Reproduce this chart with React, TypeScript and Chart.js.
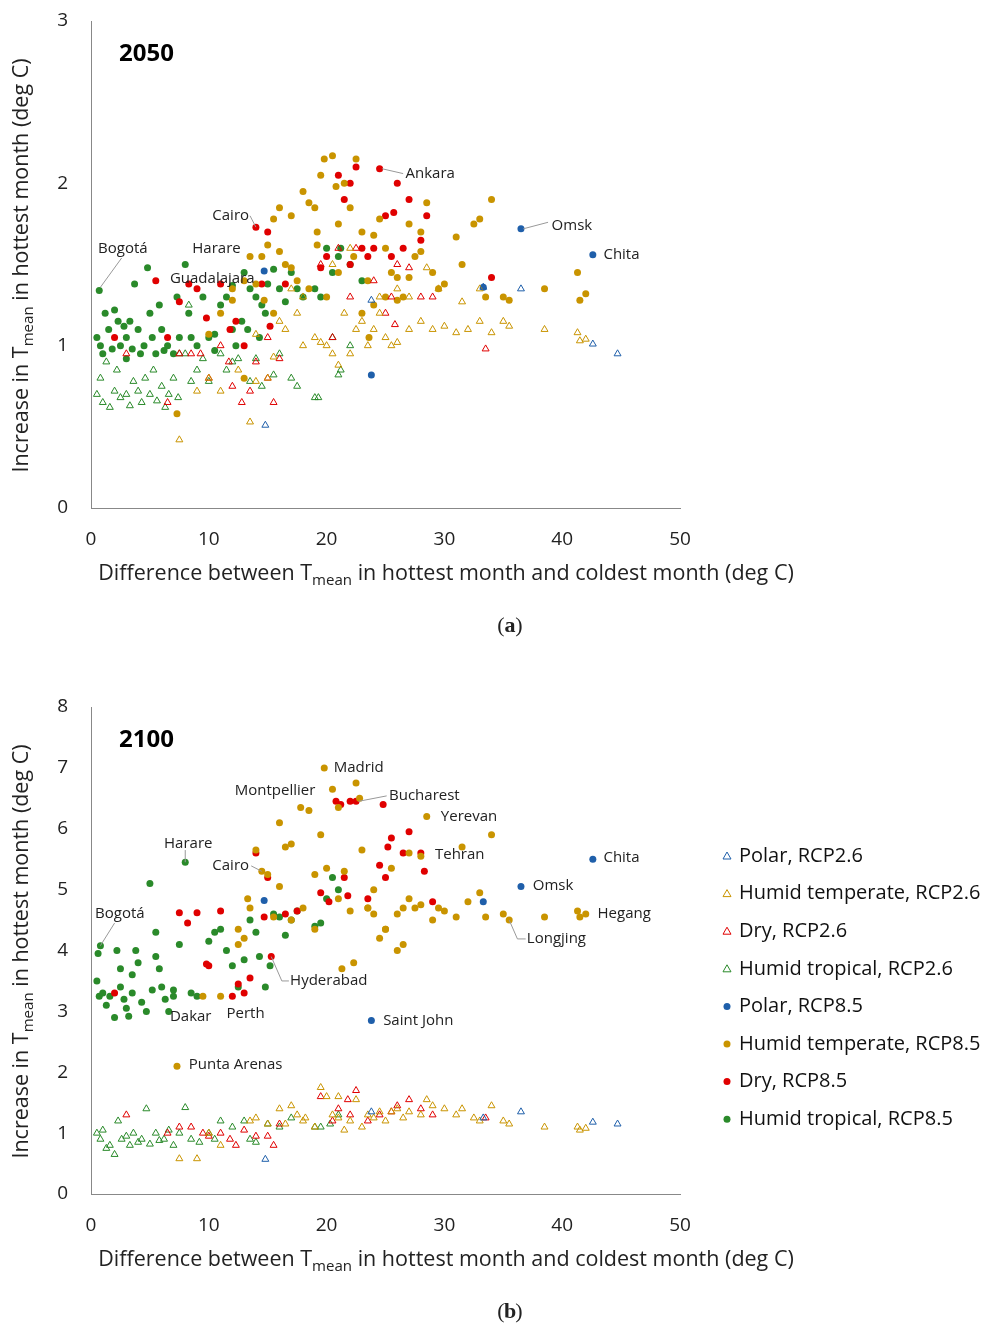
import React, { useEffect, useRef } from "react";
import { Chart, registerables } from "chart.js";
Chart.register(...registerables);

type P = [number, number];
const FONT = "'Open Sans', 'DejaVu Sans', sans-serif";

// ---------- 2050 data ----------
const a_tropical85: P[] = [[0.7,1.34],[0.5,1.05],[0.8,1.0],[1,0.95],[1.2,1.2],[1.5,1.1],[1.8,0.98],[2,1.22],[2.3,1.15],[2.5,1.0],[2.8,1.12],[3,1.05],[3,0.92],[3.3,1.15],[3.5,0.98],[3.7,1.38],[4,1.1],[4.2,0.95],[4.5,1.0],[4.8,1.48],[5,1.2],[5.2,1.05],[5.5,0.95],[5.8,1.25],[6,1.1],[6.2,0.97],[6.5,1.0],[7,0.95],[7.3,1.3],[7.5,1.05],[8,1.5],[8.3,1.2],[8.5,1.05],[9,1.0],[9.5,1.3],[10,1.05],[10.5,0.97],[11,1.25],[11.5,1.3],[12,1.1],[12.3,1.0],[12.8,1.15],[13,1.45],[13.3,1.1],[13.5,1.35],[14,1.3],[14.3,1.05],[14.8,1.2],[15,1.38],[15.5,1.47],[16,1.35],[16.5,1.27],[17,1.45],[17.5,1.35],[18,1.3],[19,1.35],[19.5,1.3],[20,1.6],[20.5,1.45],[21,1.55],[21.2,1.6],[22,1.5],[23,1.4],[12,1.37],[14.5,1.25],[10.5,1.07]];
const a_tropical26: P[] = [[0.5,0.7],[0.8,0.8],[1,0.65],[1.3,0.9],[1.6,0.62],[2,0.72],[2.2,0.85],[2.5,0.68],[3,0.7],[3.3,0.63],[3.6,0.78],[4,0.72],[4.3,0.65],[4.6,0.8],[5,0.7],[5.3,0.85],[5.6,0.66],[6,0.75],[6.3,0.62],[6.6,0.7],[7,0.8],[7.4,0.68],[8,0.95],[8.3,1.25],[8.5,0.78],[9,0.85],[9.5,0.92],[10,0.78],[11,0.95],[11.5,0.85],[12,0.9],[12.5,0.92],[13.5,0.78],[14,0.92],[14.5,0.75],[15.5,0.82],[16,0.95],[17,0.8],[17.5,0.75],[19,0.68],[19.3,0.68],[21,0.82],[21.2,0.85],[22,1.0],[20.5,1.05],[7.5,0.95]];
const a_dry85: P[] = [[2,1.05],[5.5,1.4],[6.5,1.05],[7.5,1.27],[8.3,1.38],[9,1.35],[9.8,1.17],[11,1.38],[11.8,1.1],[12.3,1.15],[13,1.0],[14,1.73],[14.5,1.38],[15,1.7],[15.2,1.12],[16.5,1.38],[19.5,1.48],[20,1.55],[21,2.05],[21.5,1.9],[22,2.0],[22.5,2.1],[23,1.6],[23.5,1.55],[24.5,2.09],[25,1.8],[25.5,1.55],[26,2.0],[27,1.9],[28,1.65],[28.5,1.8],[34,1.42],[22,1.5],[24,1.6],[25.7,1.82],[26.5,1.6]];
const a_dry26: P[] = [[3,0.95],[6.5,0.65],[7.5,0.95],[8.5,0.95],[9.3,0.95],[10,0.8],[11,1.0],[11.7,0.9],[12,0.75],[12.8,0.65],[13.5,0.72],[14,0.9],[15,0.8],[15.5,0.65],[15,1.05],[16,0.92],[19.5,1.5],[20.5,1.05],[21,1.6],[22,1.3],[22.5,1.6],[24,1.4],[25,1.2],[25.5,1.3],[26,1.5],[27,1.48],[28,1.3],[29,1.3],[33.5,0.98],[25.8,1.13]];
const a_temperate85: P[] = [[7.3,0.58],[10,1.07],[11,1.2],[12,1.35],[13,0.8],[13.5,1.55],[14,1.38],[14.5,1.55],[15,1.62],[15.5,1.78],[16,1.85],[16.5,1.5],[17,1.8],[17.5,1.4],[18,1.95],[18.5,1.88],[19,1.85],[19.2,1.62],[19.5,2.05],[19.8,2.15],[20.5,2.17],[21,1.75],[21.5,2.0],[22,1.85],[22.5,2.15],[23,1.7],[23.5,1.4],[24,1.68],[24.5,1.78],[25,1.6],[25.5,1.45],[26,1.42],[26.5,1.3],[27,1.75],[27.5,1.55],[28,1.7],[28.5,1.88],[29,1.45],[29.5,1.35],[30,1.38],[31,1.67],[31.5,1.5],[32.5,1.75],[33,1.78],[33.5,1.3],[34,1.9],[35,1.3],[35.5,1.28],[38.5,1.35],[41.3,1.45],[41.5,1.28],[42,1.32],[20,1.3],[21,1.45],[22.3,1.55],[24,1.25],[25,1.3],[26,1.28],[18.5,1.35],[16,1.58],[17,1.48],[14.7,1.28],[15.5,1.2],[13,1.4],[12,1.28],[23,1.2],[27,1.42],[28,1.58],[23.6,1.05],[19.2,1.7],[20.8,1.98]];
const a_temperate26: P[] = [[7.5,0.42],[9,0.72],[10,0.8],[11,0.72],[13.5,0.53],[14,1.07],[15,0.8],[15.5,0.93],[16,1.15],[17,1.35],[18,1.3],[19,1.05],[19.5,1.02],[20,1.0],[20.5,0.95],[21,0.88],[22,0.95],[22.5,1.1],[23,1.15],[23.5,1.0],[24,1.1],[24.5,1.3],[25,1.05],[25.5,1.0],[26,1.02],[27,1.1],[28,1.15],[28.5,1.48],[29,1.1],[30,1.12],[31,1.08],[32,1.1],[33,1.15],[34,1.08],[35,1.15],[35.5,1.12],[38.5,1.1],[41.3,1.08],[41.5,1.03],[42,1.04],[20.5,1.5],[22,1.6],[24.5,1.2],[26,1.35],[27,1.3],[29.5,1.35],[31.5,1.27],[33,1.35],[16.5,1.1],[17.5,1.2],[21.5,1.2],[18,1.0],[14,0.78],[12.5,0.85]];
const a_polar85: P[] = [[14.7,1.46],[23.8,0.82],[33.3,1.36],[36.5,1.72],[42.6,1.56]];
const a_polar26: P[] = [[14.8,0.51],[23.8,1.28],[33.3,1.36],[36.5,1.35],[42.6,1.01],[44.7,0.95]];

// ---------- 2100 data ----------
const b_tropical85: P[] = [[0.6,3.95],[0.8,4.08],[0.5,3.5],[0.7,3.25],[1,3.3],[1.3,3.1],[1.6,3.25],[2,2.9],[2.2,4.0],[2.5,3.7],[2.8,3.2],[3,3.05],[3.2,2.92],[3.5,3.3],[3.8,4.0],[4,3.8],[4.3,3.15],[4.7,3.0],[5,5.1],[5.2,3.35],[5.5,4.3],[5.8,3.7],[6,3.4],[6.3,3.2],[6.6,3.0],[7,3.35],[7.5,4.1],[8,5.45],[8.5,3.3],[9,3.25],[10,4.15],[10.5,4.3],[11,4.35],[11.5,4.0],[12,3.75],[12.5,3.4],[13,3.85],[13.5,4.5],[14,4.3],[14.3,3.9],[14.8,3.4],[15.2,3.75],[15.5,4.6],[16,4.55],[16.5,4.25],[17,4.5],[17.5,4.65],[19,4.4],[19.5,4.45],[20,4.85],[20.5,5.2],[21,5.0],[3.5,3.6],[5.5,3.9],[2.5,3.4],[7,3.25]];
const b_tropical26: P[] = [[0.5,1.0],[0.8,0.9],[1,1.05],[1.3,0.75],[1.6,0.8],[2,0.65],[2.3,1.2],[2.6,0.9],[3,0.95],[3.3,0.8],[3.6,1.0],[4,0.85],[4.3,0.9],[4.7,1.4],[5,0.82],[5.5,1.0],[5.8,0.88],[6.2,0.9],[6.6,1.05],[7,0.8],[7.5,1.0],[8,1.42],[8.5,0.9],[9.2,0.85],[10,1.0],[10.5,0.9],[11,1.2],[12,1.1],[13,1.2],[13.5,0.9],[14,0.85],[15,1.15],[16,1.1],[17,1.25],[19,1.1],[19.5,1.1],[20.3,1.15],[21,1.3]];
const b_dry85: P[] = [[2,3.3],[7.5,4.62],[8.2,4.45],[9,4.62],[9.8,3.78],[10,3.75],[11,4.65],[12,3.25],[12.5,3.45],[13,3.3],[13.5,3.55],[14,5.6],[14.7,4.55],[15,5.2],[15.3,3.9],[16.5,4.6],[17.5,4.65],[19.5,4.95],[20.2,4.8],[20.8,6.45],[21.2,6.4],[21.5,5.2],[22,6.45],[22.5,6.45],[23.5,4.85],[24.5,5.4],[24.8,6.4],[25.2,5.7],[25.5,5.85],[26.5,5.6],[27,5.95],[28,5.6],[28.3,5.3],[29,4.8],[21.8,4.9],[25,5.2]];
const b_dry26: P[] = [[3,1.3],[6.5,1.0],[7.5,1.1],[8.5,1.1],[9.5,1.0],[10,0.95],[11,1.0],[11.8,0.9],[12.3,0.8],[13,1.05],[14,0.95],[15,0.95],[15.5,0.8],[16,1.15],[19.5,1.6],[20.5,1.2],[21,1.4],[22,1.3],[22.5,1.7],[23.5,1.2],[24.5,1.3],[25.5,1.35],[26,1.45],[27,1.55],[28,1.4],[29,1.3],[33.5,1.25],[21.8,1.55]];
const b_temperate85: P[] = [[7.3,2.1],[9.5,3.25],[11,3.25],[12.5,4.35],[13,4.2],[13.5,4.7],[14,5.65],[14.5,5.3],[15,5.25],[15.5,4.55],[16,6.1],[16.5,5.7],[17,5.75],[17.8,6.35],[18.5,6.3],[19,5.25],[19.5,5.9],[19.8,7.0],[20.5,6.65],[21,6.35],[21.5,5.3],[22,4.65],[22.5,6.75],[22.8,6.5],[23,5.65],[23.5,4.7],[24,4.6],[24.5,4.2],[25,4.35],[25.5,5.35],[26,4.6],[26.5,4.7],[27,5.6],[27.5,4.7],[28,5.55],[28.5,6.2],[29,4.5],[29.5,4.7],[30,4.65],[31,4.55],[31.5,5.7],[32,4.8],[33,4.95],[33.5,4.55],[34,5.9],[35,4.6],[35.5,4.5],[38.5,4.55],[41.3,4.65],[41.5,4.55],[42,4.6],[20,5.35],[21,4.85],[24,5.0],[25,4.35],[26,4.0],[27,4.85],[22.3,3.8],[21.3,3.7],[17,4.5],[18,4.7],[12.5,4.1],[13.3,4.85],[16,5.05],[19,4.35],[23.5,4.7],[26.5,4.1],[28,4.75]];
const b_temperate26: P[] = [[7.5,0.58],[9,0.58],[10,1.0],[11,0.8],[13.5,1.2],[14,1.25],[15,1.15],[16,1.4],[17,1.45],[18,1.2],[19,1.1],[19.5,1.75],[20,1.6],[20.5,1.3],[21,1.25],[21.5,1.05],[22,1.2],[22.5,1.55],[23,1.1],[23.5,1.3],[24,1.25],[24.5,1.35],[25,1.2],[25.5,1.35],[26,1.4],[27,1.35],[28,1.3],[28.5,1.55],[29,1.45],[30,1.4],[31,1.3],[31.5,1.4],[32.5,1.25],[33,1.2],[34,1.45],[35,1.2],[35.5,1.15],[38.5,1.1],[41.3,1.1],[41.5,1.05],[42,1.08],[16.5,1.15],[17.5,1.3],[18.2,1.25],[21,1.6],[26.5,1.25]];
const b_polar85: P[] = [[14.7,4.82],[23.8,2.85],[33.3,4.8],[36.5,5.05],[42.6,5.5]];
const b_polar26: P[] = [[14.8,0.57],[23.8,1.35],[33.3,1.25],[36.5,1.35],[42.6,1.18],[44.7,1.15]];

// label, label x, label y, optional line [x1,y1,x2,y2,...]
type Ann = [string, number, number, number[]?];
const a_labels: Ann[] = [
  ["Bogotá", 0.6, 1.6, [0.8, 1.36, 2.6, 1.54]],
  ["Cairo", 10.3, 1.8, [13.5, 1.8, 14, 1.73]],
  ["Harare", 8.6, 1.6],
  ["Guadalajara", 6.7, 1.41],
  ["Ankara", 26.7, 2.06, [24.7, 2.09, 26.5, 2.06]],
  ["Omsk", 39.1, 1.74, [36.7, 1.72, 38.8, 1.76]],
  ["Chita", 43.5, 1.56],
];
const b_labels: Ann[] = [
  ["Madrid", 20.6, 7.0],
  ["Montpellier", 12.2, 6.62],
  ["Bucharest", 25.3, 6.54, [22.7, 6.45, 25.1, 6.54]],
  ["Yerevan", 29.7, 6.19],
  ["Harare", 6.2, 5.76, [8, 5.65, 8, 5.45]],
  ["Cairo", 10.3, 5.39, [13.6, 5.39, 14.5, 5.3]],
  ["Tehran", 29.2, 5.58],
  ["Chita", 43.5, 5.52],
  ["Omsk", 37.5, 5.06],
  ["Hegang", 43, 4.61],
  ["Bogotá", 0.35, 4.61, [2.0, 4.45, 0.8, 4.08]],
  ["Longjing", 37.0, 4.19, [35.5, 4.5, 36.2, 4.19, 36.9, 4.19]],
  ["Hyderabad", 16.9, 3.5, [15.3, 3.9, 16.2, 3.5, 16.8, 3.5]],
  ["Dakar", 6.7, 2.92],
  ["Perth", 11.5, 2.96],
  ["Saint John", 24.8, 2.84],
  ["Punta Arenas", 8.3, 2.12],
];

const C_POLAR = "#1F5FAA", C_TEMP = "#C99400", C_DRY = "#E00000", C_TROP = "#2A8A2A";
const legendItems: [string, string, boolean][] = [
  ["Polar, RCP2.6", C_POLAR, false],
  ["Humid temperate, RCP2.6", C_TEMP, false],
  ["Dry, RCP2.6", C_DRY, false],
  ["Humid tropical, RCP2.6", C_TROP, false],
  ["Polar, RCP8.5", C_POLAR, true],
  ["Humid temperate, RCP8.5", C_TEMP, true],
  ["Dry, RCP8.5", C_DRY, true],
  ["Humid tropical, RCP8.5", C_TROP, true],
];

function ds(data: P[], color: string, filled: boolean) {
  return {
    data: data.map(([x, y]) => ({ x, y })),
    pointStyle: filled ? "circle" : "triangle",
    pointRadius: filled ? 3.5 : 4,
    borderWidth: filled ? 0 : 1,
    borderColor: color,
    backgroundColor: filled ? color : "rgba(0,0,0,0)",
  };
}

function makeChart(canvas: HTMLCanvasElement, opts: any) {
  const { sets, yMax, top, bottom, year, labels, legend, panel, W, H } = opts;
  const deco = {
    id: "deco",
    afterDraw(chart: any) {
      const ctx = chart.ctx, xs = chart.scales.x, ys = chart.scales.y, ca = chart.chartArea;
      ctx.save();
      ctx.fillStyle = "#000";
      ctx.font = `bold 24px ${FONT}`;
      ctx.textBaseline = "middle";
      ctx.textAlign = "left";
      ctx.fillText(year, 119, ca.top + 33);
      ctx.font = `15px ${FONT}`;
      ctx.fillStyle = "#222";
      ctx.strokeStyle = "#999";
      ctx.lineWidth = 1;
      for (const [t, lx, ly, line] of labels as Ann[]) {
        ctx.fillText(t, xs.getPixelForValue(lx), ys.getPixelForValue(ly));
        if (line) {
          ctx.beginPath();
          for (let i = 0; i < line.length; i += 2) {
            const px = xs.getPixelForValue(line[i]), py = ys.getPixelForValue(line[i + 1]);
            i === 0 ? ctx.moveTo(px, py) : ctx.lineTo(px, py);
          }
          ctx.stroke();
        }
      }
      ctx.fillStyle = "#222";
      const drawSub = (x: number, y: number, center: boolean, sz: number) => {
        const p1 = center ? "Difference between T" : "Increase in T";
        const p3 = center ? " in hottest month and coldest month (deg C)" : " in hottest month (deg C)";
        ctx.font = `${sz}px ${FONT}`;
        const w1 = ctx.measureText(p1).width, w3 = ctx.measureText(p3).width;
        ctx.font = `${sz * 0.7}px ${FONT}`;
        const w2 = ctx.measureText("mean").width;
        const sx = x - (w1 + w2 + w3) / 2;
        ctx.textAlign = "left";
        ctx.font = `${sz}px ${FONT}`;
        ctx.fillText(p1, sx, y);
        ctx.font = `${sz * 0.7}px ${FONT}`;
        ctx.fillText("mean", sx + w1, y + 7);
        ctx.font = `${sz}px ${FONT}`;
        ctx.fillText(p3, sx + w1 + w2, y);
      };
      drawSub(446, ca.bottom + 66, true, 21.5);
      ctx.save();
      ctx.translate(22, (ca.top + ca.bottom) / 2 + 1);
      ctx.rotate(-Math.PI / 2);
      drawSub(0, 0, false, 21.5);
      ctx.restore();
      ctx.textAlign = "center";
      ctx.font = `22px 'Liberation Serif', serif`;
      ctx.fillText("(", 501, ca.bottom + 118);
      ctx.font = `bold 22px 'Liberation Serif', serif`;
      ctx.fillText(panel, 510, ca.bottom + 118);
      ctx.font = `22px 'Liberation Serif', serif`;
      ctx.fillText(")", 519, ca.bottom + 118);
      if (legend) {
        ctx.textAlign = "left";
        legendItems.forEach(([t, c, f], i) => {
          const y = ca.top + 149 + i * 37.6;
          ctx.fillStyle = c; ctx.strokeStyle = c;
          if (f) { ctx.beginPath(); ctx.arc(727, y, 3.5, 0, Math.PI * 2); ctx.fill(); }
          else { ctx.beginPath(); ctx.moveTo(727, y - 4); ctx.lineTo(731, y + 3); ctx.lineTo(723, y + 3); ctx.closePath(); ctx.stroke(); }
          ctx.fillStyle = "#111";
          ctx.font = `20px ${FONT}`;
          ctx.fillText(t, 739, y);
        });
      }
      ctx.restore();
    },
  };
  return new Chart(canvas, {
    type: "scatter",
    data: { datasets: sets },
    plugins: [deco],
    options: {
      animation: false, responsive: false, devicePixelRatio: 1,
      layout: { padding: { top, right: W - 680, left: 0, bottom: 0 } },
      plugins: { legend: { display: false }, tooltip: { enabled: false } },
      scales: {
        x: {
          min: 0, max: 50,
          ticks: { stepSize: 10, color: "#222", font: { size: 19, family: FONT }, padding: 20 },
          grid: { display: false, drawTicks: false },
          border: { color: "#888" },
          afterFit: (s: any) => { s.height = H - bottom; },
        },
        y: {
          min: 0, max: yMax,
          ticks: { stepSize: 1, color: "#222", font: { size: 19, family: FONT }, padding: 23 },
          grid: { display: false, drawTicks: false },
          border: { color: "#888" },
          afterFit: (s: any) => { s.width = 91; },
        },
      },
    } as any,
  });
}

export default function App() {
  const r1 = useRef<HTMLCanvasElement>(null);
  const r2 = useRef<HTMLCanvasElement>(null);
  useEffect(() => {
    const c1 = makeChart(r1.current!, {
      W: 1005, H: 665, top: 47, bottom: 534, year: "2050", labels: a_labels, legend: false, panel: "a", yMax: 3,
      sets: [ds(a_polar26, C_POLAR, false), ds(a_temperate26, C_TEMP, false), ds(a_dry26, C_DRY, false), ds(a_tropical26, C_TROP, false),
        ds(a_temperate85, C_TEMP, true), ds(a_dry85, C_DRY, true), ds(a_tropical85, C_TROP, true), ds(a_polar85, C_POLAR, true)],
    });
    const c2 = makeChart(r2.current!, {
      W: 1005, H: 665, top: 47, bottom: 534, year: "2100", labels: b_labels, legend: true, panel: "b", yMax: 8,
      sets: [ds(b_polar26, C_POLAR, false), ds(b_temperate26, C_TEMP, false), ds(b_dry26, C_DRY, false), ds(b_tropical26, C_TROP, false),
        ds(b_temperate85, C_TEMP, true), ds(b_dry85, C_DRY, true), ds(b_tropical85, C_TROP, true), ds(b_polar85, C_POLAR, true)],
    });
    return () => { c1.destroy(); c2.destroy(); };
  }, []);
  return (
    <div style={{ position: "absolute", left: 0, top: 0, width: 1005, height: 1325, background: "#fff", overflow: "hidden" }}>
      <canvas ref={r1} width={1005} height={665} style={{ display: "block", marginTop: -26 }} />
      <canvas ref={r2} width={1005} height={665} style={{ display: "block", marginTop: 21 }} />
    </div>
  );
}
